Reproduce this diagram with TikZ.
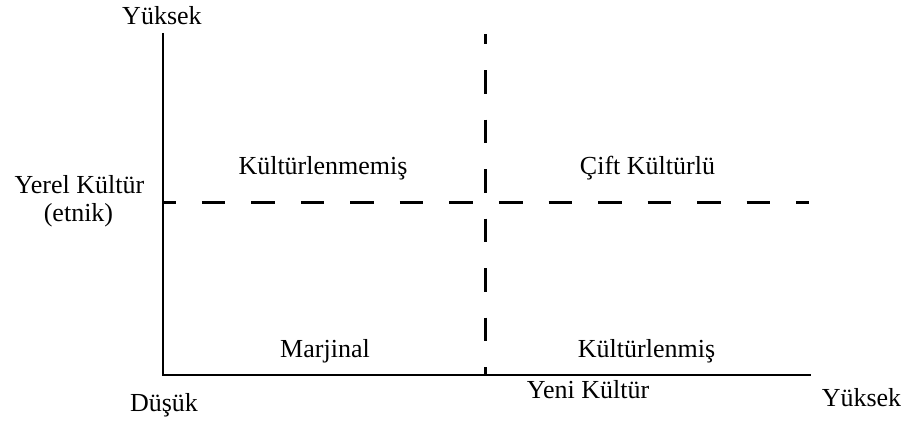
\documentclass[tikz,border=0pt]{standalone}
\usepackage{fontspec}
\setmainfont{Liberation Serif}

\tikzset{
    axis/.style = {line width = 1.2pt},
    split/.style = {line width = 1.5pt, dash pattern = on 11.75pt off 13pt},
    lbl/.style = {anchor = base, inner sep = 0pt, font = \fontsize{13}{14}\selectfont}
}

\begin{document}
\begin{tikzpicture}
        \useasboundingbox (-2.864,-0.791) rectangle (13.162,6.590);

        \coordinate (O) at (0,0);
        \coordinate (ytop) at (0,6.01);
        \coordinate (xend) at (11.39,0);

        \draw [axis] (ytop) -- (O) -- (xend);

        \coordinate (vtop) at (5.676,5.992);
        \coordinate (vbot) at (5.676,0);
        \coordinate (hleft) at (0,3.04);
        \coordinate (hright) at (11.352,3.04);

        \draw [split, dash phase = 6.75pt] (vtop) -- (vbot);
        \draw [split, dash phase = 5.25pt] (hleft) -- (hright);

        \node (ust) at (-0.018, 6.168) [lbl] {Yüksek};
        \node (yerel) at (-1.467, 3.198) [lbl] {Yerel Kültür};
        \node (etnik) at (-1.485, 2.689) [lbl] {(etnik)};

        \node (kmemis) at (2.812, 3.532) [lbl] {Kültürlenmemiş};
        \node (cift) at (8.514, 3.532) [lbl] {Çift Kültürlü};
        \node (marj) at (2.847, 0.316) [lbl] {Marjinal};
        \node (kmis) at (8.497, 0.316) [lbl] {Kültürlenmiş};

        \node (dusuk) at (0.018, -0.633) [lbl] {Düşük};
        \node (yeni) at (7.469, -0.404) [lbl] {Yeni Kültür};
        \node (sag) at (12.275, -0.545) [lbl] {Yüksek};
    \end{tikzpicture}
\end{document}
